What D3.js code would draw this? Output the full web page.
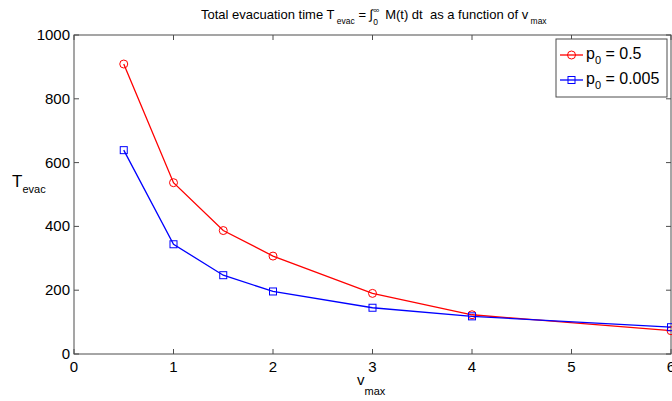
<!DOCTYPE html>
<html>
<head>
<meta charset="utf-8">
<script src="https://cdn.jsdelivr.net/npm/d3@7"></script>
<style>
  body { margin: 0; background: #fff; }
  svg { font-family: "Liberation Sans", Arial, sans-serif; }
  text { white-space: pre; }
</style>
</head>
<body>
<div id="chart"></div>
<script>
// data
const vmax = [0.5, 1, 1.5, 2, 3, 4, 6];
const tevacHigh = [909, 537, 387, 307, 190, 123, 73];   // p0 = 0.5
const tevacLow = [639, 344, 247, 196, 145, 118, 84];    // p0 = 0.005
const xTicks = [0, 1, 2, 3, 4, 5, 6];
const yTicks = [0, 200, 400, 600, 800, 1000];

const W = 672, H = 401;
const margin = {top: 35, right: 1, bottom: 47, left: 74};

const svg = d3.select("#chart")
    .append("svg")
    .attr("width", W)
    .attr("height", H);

const x = d3.scaleLinear().domain([0, 6]).range([margin.left, W - margin.right]);
const y = d3.scaleLinear().domain([0, 1000]).range([H - margin.bottom, margin.top]);

const axisColor = "#4d4d4d";

// box
svg.append("rect")
    .attr("x", x(0)).attr("y", y(1000))
    .attr("width", x(6) - x(0)).attr("height", y(0) - y(1000))
    .attr("fill", "none").attr("stroke", axisColor).attr("stroke-width", 1);

// ticks (inward, on all four sides)
const tl = 5;
svg.append("g").selectAll("line.xb").data(xTicks).join("line")
    .attr("x1", d => x(d)).attr("x2", d => x(d))
    .attr("y1", y(0)).attr("y2", y(0) - tl)
    .attr("stroke", axisColor);
svg.append("g").selectAll("line.xt").data(xTicks).join("line")
    .attr("x1", d => x(d)).attr("x2", d => x(d))
    .attr("y1", y(1000)).attr("y2", y(1000) + tl)
    .attr("stroke", axisColor);
svg.append("g").selectAll("line.yl").data(yTicks).join("line")
    .attr("x1", x(0)).attr("x2", x(0) + tl)
    .attr("y1", d => y(d)).attr("y2", d => y(d))
    .attr("stroke", axisColor);
svg.append("g").selectAll("line.yr").data(yTicks).join("line")
    .attr("x1", x(6)).attr("x2", x(6) - tl)
    .attr("y1", d => y(d)).attr("y2", d => y(d))
    .attr("stroke", axisColor);

// tick labels
svg.append("g").selectAll("text").data(xTicks).join("text")
    .attr("x", d => x(d)).attr("y", y(0) + 18)
    .attr("text-anchor", "middle")
    .attr("font-size", 15)
    .text(d => d);
svg.append("g").selectAll("text").data(yTicks).join("text")
    .attr("x", x(0) - 4).attr("y", d => y(d) + 5)
    .attr("text-anchor", "end")
    .attr("font-size", 15)
    .text(d => d);

// axis labels
const xl = svg.append("text").attr("x", 357).attr("y", 385).attr("font-size", 15);
xl.append("tspan").text("v");
xl.append("tspan").attr("dy", 10).attr("font-size", 11).text("max");

const yl = svg.append("text").attr("x", 12).attr("y", 187).attr("font-size", 17);
yl.append("tspan").text("T");
yl.append("tspan").attr("dy", 6).attr("font-size", 11).text("evac");

// title
const title = svg.append("text")
    .attr("x", 201).attr("y", 18.5)
    .attr("font-size", 13);
title.append("tspan").text("Total evacuation time T");
title.append("tspan").attr("dy", 5).attr("font-size", 8.5).text(" evac");
title.append("tspan").attr("dy", -5).text(" = \u222B");
const inf = title.append("tspan").attr("dy", -6).attr("font-size", 8.5).text("\u221E");
const infW = inf.node().getComputedTextLength();
title.append("tspan").attr("dy", 12).attr("dx", -infW).attr("font-size", 8.5).text("0");
title.append("tspan").attr("dy", -6).text("  M(t) dt  as a function of v");
title.append("tspan").attr("dy", 5).attr("font-size", 8.5).text(" max");

// series
const line = d3.line().x(d => x(d[0])).y(d => y(d[1]));
const redData = vmax.map((v, i) => [v, tevacHigh[i]]);
const blueData = vmax.map((v, i) => [v, tevacLow[i]]);

svg.append("path").datum(redData)
    .attr("d", line).attr("fill", "none").attr("stroke", "#ff0000").attr("stroke-width", 1.3);
svg.append("g").selectAll("circle").data(redData).join("circle")
    .attr("cx", d => x(d[0])).attr("cy", d => y(d[1])).attr("r", 4)
    .attr("fill", "none").attr("stroke", "#ff0000").attr("stroke-width", 1);

svg.append("path").datum(blueData)
    .attr("d", line).attr("fill", "none").attr("stroke", "#0000ff").attr("stroke-width", 1.3);
svg.append("g").selectAll("rect").data(blueData).join("rect")
    .attr("x", d => x(d[0]) - 3.5).attr("y", d => y(d[1]) - 3.5)
    .attr("width", 7).attr("height", 7)
    .attr("fill", "none").attr("stroke", "#0000ff").attr("stroke-width", 1);

// legend
const lg = svg.append("g").attr("transform", "translate(556,39)");
lg.append("rect").attr("width", 111).attr("height", 58)
    .attr("fill", "#fff").attr("stroke", axisColor);
const entries = [
    {label: "0.5", color: "#ff0000", marker: "circle"},
    {label: "0.005", color: "#0000ff", marker: "square"}
];
entries.forEach((e, i) => {
    const cy = 16 + i * 25;
    lg.append("line").attr("x1", 4).attr("x2", 27).attr("y1", cy).attr("y2", cy)
        .attr("stroke", e.color).attr("stroke-width", 1.3);
    if (e.marker === "circle") {
        lg.append("circle").attr("cx", 15.5).attr("cy", cy).attr("r", 4)
            .attr("fill", "none").attr("stroke", e.color);
    } else {
        lg.append("rect").attr("x", 12).attr("y", cy - 3.5).attr("width", 7).attr("height", 7)
            .attr("fill", "none").attr("stroke", e.color);
    }
    const t = lg.append("text").attr("x", 30).attr("y", cy + 4).attr("font-size", 16);
    t.append("tspan").text("p");
    t.append("tspan").attr("dy", 5).attr("font-size", 11).text("0");
    t.append("tspan").attr("dy", -5).text(" = " + e.label);
});
</script>
</body>
</html>
